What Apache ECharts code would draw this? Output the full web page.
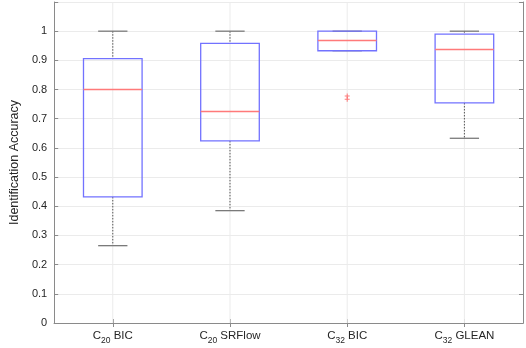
<!DOCTYPE html>
<html><head><meta charset="utf-8">
<script src="https://cdn.jsdelivr.net/npm/echarts@6/dist/echarts.min.js"></script>
<style>html,body{margin:0;padding:0;background:#fff}#c{width:526px;height:348px}</style>
</head><body><div id="c"></div>
<script>
const categories = ['C20 BIC', 'C20 SRFlow', 'C32 BIC', 'C32 GLEAN'];
const lowWhisker = [0.265, 0.385, 0.933, 0.633];
const q1 = [0.432, 0.624, 0.933, 0.754];
const median = [0.800, 0.725, 0.968, 0.937];
const q3 = [0.906, 0.958, 1.0, 0.990];
const highWhisker = [1.0, 1.0, 1.0, 1.0];
const outliers = [[2, 0.778], [2, 0.767]];
const yTicks = [0, 0.1, 0.2, 0.3, 0.4, 0.5, 0.6, 0.7, 0.8, 0.9, 1];
const yMax = 1.1;

const boxData = categories.map((c, i) => [i, lowWhisker[i], q1[i], median[i], q3[i], highWhisker[i]]);
const gridData = categories.map((c, i) => [i]);
const font = 'Liberation Sans, Arial, sans-serif';
const axisColor = '#8a8a8a';

function catLabel(v) {
  const m = /^C(\d+) (.*)$/.exec(v);
  return m ? '{c|C}{s|' + m[1] + '}{c| ' + m[2] + '}' : v;
}

const chart = echarts.init(document.getElementById('c'), null, {renderer: 'canvas'});
const option = {
  animation: false,
  grid: {left: 37, right: 3, top: 2, bottom: 25, show: false},
  xAxis: [{
    type: 'category', data: categories, boundaryGap: true,
    axisLine: {show: true, lineStyle: {color: axisColor, width: 1}},
    axisTick: {show: true, inside: true, alignWithLabel: true, interval: 0, length: 4, lineStyle: {color: axisColor}},
    splitLine: {show: false},
    axisLabel: {
      margin: 7, interval: 0, formatter: catLabel,
      rich: {
        c: {fontFamily: font, fontSize: 11.5, color: '#262626', verticalAlign: 'top', lineHeight: 12},
        s: {fontFamily: font, fontSize: 8.5, color: '#262626', verticalAlign: 'top', padding: [6, 0, 0, 0], lineHeight: 12}
      }
    }
  }, {
    type: 'category', data: categories, position: 'top', boundaryGap: true,
    axisLine: {show: true, lineStyle: {color: axisColor, width: 1}},
    axisTick: {show: true, inside: true, alignWithLabel: true, interval: 0, length: 4, lineStyle: {color: axisColor}},
    axisLabel: {show: false}, splitLine: {show: false}
  }],
  yAxis: [{
    type: 'value', min: 0, max: yMax, interval: 0.1,
    name: 'Identification Accuracy', nameLocation: 'middle', nameGap: 29,
    nameTextStyle: {fontFamily: font, fontSize: 12.5, color: '#262626'},
    axisLine: {show: true, lineStyle: {color: axisColor, width: 1}},
    axisTick: {show: true, inside: true, length: 4, lineStyle: {color: axisColor}},
    splitLine: {show: true, lineStyle: {color: '#ebebeb', width: 1}},
    axisLabel: {
      fontFamily: font, fontSize: 11, color: '#262626', margin: 7,
      formatter: v => {
        const r = Math.round(v * 10) / 10;
        return yTicks.indexOf(r) >= 0 ? String(r) : '';
      }
    }
  }, {
    type: 'value', min: 0, max: yMax, interval: 0.1, position: 'right',
    axisLine: {show: true, lineStyle: {color: axisColor, width: 1}},
    axisTick: {show: true, inside: true, length: 4, lineStyle: {color: axisColor}},
    axisLabel: {show: false}, splitLine: {show: false}
  }],
  series: [{
    type: 'custom',
    data: gridData,
    z: 1,
    silent: true,
    renderItem: function (params, api) {
      const x = api.value(0);
      const p0 = api.coord([x, 0]);
      const p1 = api.coord([x, yMax]);
      return {type: 'line', shape: {x1: p0[0], y1: p0[1], x2: p1[0], y2: p1[1]},
        style: {stroke: '#ebebeb', lineWidth: 1}};
    }
  }, {
    type: 'custom',
    data: boxData,
    z: 3,
    renderItem: function (params, api) {
      const x = api.value(0);
      const band = api.size([1, 0])[0];
      const bw = band * 0.5, cw = band * 0.25;
      const pLo = api.coord([x, api.value(1)]);
      const pQ1 = api.coord([x, api.value(2)]);
      const pMed = api.coord([x, api.value(3)]);
      const pQ3 = api.coord([x, api.value(4)]);
      const pHi = api.coord([x, api.value(5)]);
      const cx = pMed[0];
      const dash = {stroke: '#555', lineWidth: 1, lineDash: [1.5, 1.5]};
      const cap = {stroke: '#7a7a7a', lineWidth: 1.3};
      return {
        type: 'group',
        children: [
          {type: 'line', shape: {x1: cx, y1: pHi[1], x2: cx, y2: pQ3[1]}, style: dash},
          {type: 'line', shape: {x1: cx, y1: pQ1[1], x2: cx, y2: pLo[1]}, style: dash},
          {type: 'line', shape: {x1: cx - cw / 2, y1: pHi[1], x2: cx + cw / 2, y2: pHi[1]}, style: cap},
          {type: 'line', shape: {x1: cx - cw / 2, y1: pLo[1], x2: cx + cw / 2, y2: pLo[1]}, style: cap},
          {type: 'rect', shape: {x: cx - bw / 2, y: pQ3[1], width: bw, height: pQ1[1] - pQ3[1]},
            style: {fill: 'rgba(0,0,0,0)', stroke: '#7272ff', lineWidth: 1.3}},
          {type: 'line', shape: {x1: cx - bw / 2, y1: pMed[1], x2: cx + bw / 2, y2: pMed[1]},
            style: {stroke: '#ff7a7a', lineWidth: 1.5}}
        ]
      };
    }
  }, {
    type: 'scatter',
    data: outliers,
    z: 4,
    symbol: 'path://M2,0 L3,0 L3,2 L5,2 L5,3 L3,3 L3,5 L2,5 L2,3 L0,3 L0,2 L2,2Z',
    symbolSize: 5,
    itemStyle: {color: '#ff5a5a'}
  }]
};
chart.setOption(option);
</script>
</body></html>
